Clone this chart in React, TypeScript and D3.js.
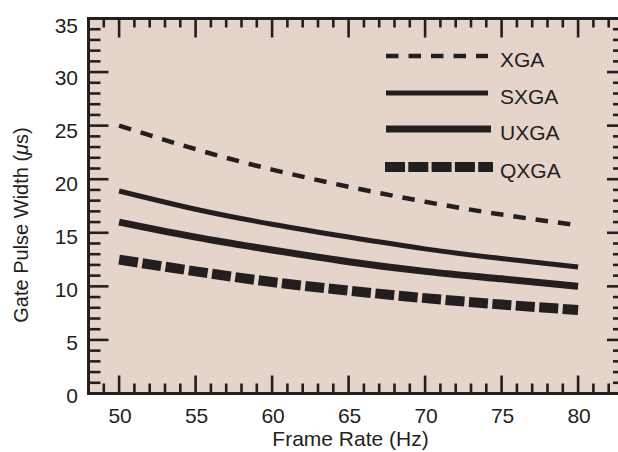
import React from "react";
import * as d3 from "d3";

const frameRates = [50, 55, 60, 65, 70, 75, 80];
const xga = [25.0, 22.8, 20.9, 19.3, 17.9, 16.7, 15.7];
const sxga = [18.9, 17.2, 15.8, 14.6, 13.5, 12.6, 11.8];
const uxga = [16.0, 14.6, 13.4, 12.3, 11.4, 10.7, 10.0];
const qxga = [12.5, 11.4, 10.4, 9.6, 8.9, 8.3, 7.8];
const seriesNames = ["XGA", "SXGA", "UXGA", "QXGA"];
const xTickLabels = [50, 55, 60, 65, 70, 75, 80];
const yTickLabels = [0, 5, 10, 15, 20, 25, 30, 35];

const W = 618;
const H = 452;
const INK = "#231f20";
const BG = "#e5d4ca";
const FONT = "'Liberation Sans', Arial, Helvetica, sans-serif";

export default function App() {
  const x = d3.scaleLinear().domain([48, 83]).range([88.5, 624]);
  const y = d3.scaleLinear().domain([0, 35]).range([393.5, 18.5]);
  const yLab = d3.scaleLinear().domain([0, 35]).range([395.5, 25]);

  const styles = [
    { w: 4.5, dash: "12.5 10" },
    { w: 5, dash: "" },
    { w: 7, dash: "" },
    { w: 10, dash: "19 4.5" },
  ];
  const data = [xga, sxga, uxga, qxga];
  const line = d3
    .line<number>()
    .x((_, i) => x(frameRates[i]))
    .y((d) => y(d))
    .curve(d3.curveNatural);

  const xTicks = d3.range(48, 84);
  const yTicks = d3.range(0, 36);
  const [x0, x1] = x.range();
  const [yb, yt] = y.range();

  const legendY = [56, 93, 129, 167];
  const legendX = [
    [386, 488],
    [386, 488],
    [386, 491],
    [385, 493],
  ];

  return (
    <svg
      width={W}
      height={H}
      style={{ position: "absolute", left: 0, top: 0, display: "block", overflow: "hidden" }}
      fontFamily={FONT}
    >
      <rect x={0} y={0} width={W} height={H} fill="#ffffff" />
      <rect x={x0} y={yt} width={x1 - x0} height={yb - yt} fill={BG} />
      {/* ticks */}
      <g stroke={INK} strokeWidth={2.6}>
        {xTicks.map((t) => {
          const major = t % 5 === 0;
          const px = x(t);
          return (
            <g key={"xt" + t}>
              <line x1={px} x2={px} y1={yb} y2={yb - (major ? 18 : 10)} />
              <line x1={px} x2={px} y1={yt} y2={yt + (major ? 19 : 9)} />
            </g>
          );
        })}
        {yTicks.map((t) => {
          const major = t % 5 === 0;
          const py = y(t);
          return (
            <g key={"yt" + t}>
              <line x1={x0} x2={x0 + (major ? 20 : 12)} y1={py} y2={py} />
              <line x1={x1} x2={x1 - (major ? 17 : 11)} y1={py} y2={py} />
            </g>
          );
        })}
      </g>
      <rect x={x0} y={yt} width={x1 - x0} height={yb - yt} fill="none" stroke={INK} strokeWidth={3} />
      {/* series */}
      {data.map((vals, i) => (
        <path
          key={seriesNames[i]}
          d={line(vals) || ""}
          fill="none"
          stroke={INK}
          strokeWidth={styles[i].w}
          strokeDasharray={styles[i].dash || undefined}
        />
      ))}
      {/* legend */}
      {seriesNames.map((n, i) => (
        <g key={"lg" + n}>
          <line
            x1={legendX[i][0]}
            x2={legendX[i][1]}
            y1={legendY[i]}
            y2={legendY[i]}
            stroke={INK}
            strokeWidth={styles[i].w}
            strokeDasharray={i === 3 ? "20 3.3" : styles[i].dash || undefined}
          />
          <text x={500} y={legendY[i] + 11} fontSize={21} fill={INK}>
            {n}
          </text>
        </g>
      ))}
      {/* tick labels */}
      {xTickLabels.map((t) => (
        <text key={"xl" + t} x={x(t) + 1} y={423} fontSize={21} textAnchor="middle" fill={INK}>
          {t}
        </text>
      ))}
      {yTickLabels.map((t) => (
        <text
          key={"yl" + t}
          x={78}
          y={yLab(t)}
          dy="0.36em"
          fontSize={21}
          textAnchor="end"
          fill={INK}
        >
          {t}
        </text>
      ))}
      <text x={350.5} y={446} fontSize={21} textAnchor="middle" fill={INK}>
        Frame Rate (Hz)
      </text>
      <text
        transform={`translate(28,225) rotate(-90)`}
        fontSize={20}
        textAnchor="middle"
        fill={INK}
      >
        Gate Pulse Width (<tspan fontStyle="italic">μ</tspan>s)
      </text>
    </svg>
  );
}
